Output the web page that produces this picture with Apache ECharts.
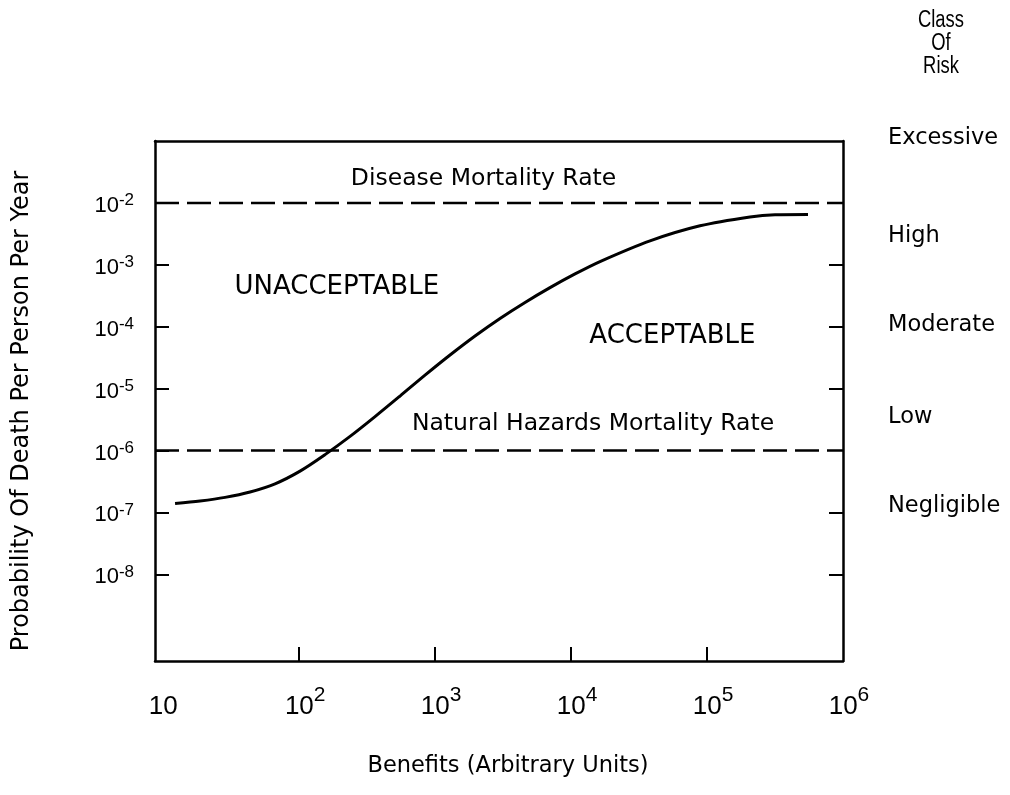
<!DOCTYPE html>
<html><head><meta charset="utf-8">
<script src="https://cdn.jsdelivr.net/npm/echarts@6/dist/echarts.min.js"></script>
<style>html,body{margin:0;padding:0;background:#fff}#c{width:1010px;height:795px}</style>
</head><body><div id="c"></div>
<script>
// ---- data ----
const benefits    = [12.22, 18.66, 28.5, 43.52, 66.46, 101.5, 155.0, 236.7, 361.4, 551.9, 842.6, 1287, 1965, 3001, 4584, 6998, 10690, 16320, 38070, 88780, 207000, 316100, 552600];
const probability = [1.39e-7, 1.53e-7, 1.75e-7, 2.14e-7, 2.90e-7, 4.65e-7, 8.59e-7, 1.69e-6, 3.53e-6, 7.59e-6, 1.65e-5, 3.49e-5, 7.08e-5, 1.36e-4, 2.47e-4, 4.28e-4, 7.13e-4, 1.13e-3, 2.44e-3, 4.27e-3, 5.94e-3, 6.45e-3, 6.52e-3];
const diseaseRate = 1e-2;
const naturalHazardsRate = 1e-6;
const xRange = [8.7, 1e6];
const yRange = [Math.pow(10, -9.4), 1e-1];
const xTickExponents = [1, 2, 3, 4, 5, 6];
const xTickMarkExponents = [2, 3, 4, 5];
const yTickExponents = [-2, -3, -4, -5, -6, -7, -8];
const rightTickExponents = [-3, -4, -5, -7, -8];
const regionLabels = ['Disease Mortality Rate', 'UNACCEPTABLE', 'ACCEPTABLE', 'Natural Hazards Mortality Rate'];
const regionLabelBenefits = [2270, 189, 55600, 14500];
const regionLabelProbability = [2.48e-2, 4.38e-4, 6.9e-5, 2.68e-6];
const riskClasses = ['Excessive', 'High', 'Moderate', 'Low', 'Negligible'];
const riskHeader = 'Class\nOf\nRisk';
const xTitle = 'Benefits (Arbitrary Units)';
const yTitle = 'Probability Of Death Per Person Per Year';

// ---- chart ----
const lg = Math.log10;
const WORD_FONT = '"DejaVu Sans", sans-serif';
const NUM_FONT = '"Liberation Sans", Arial, sans-serif';
const xMin = lg(xRange[0]), xMax = lg(xRange[1]);
const yMin = lg(yRange[0]), yMax = lg(yRange[1]);
const axisLineStyle = { color: '#000', width: 2.5 };

const chart = echarts.init(document.getElementById('c'), null, { renderer: 'canvas' });

const riskTops = [127, 225, 314, 406, 495];

const option = {
  animation: false,
  backgroundColor: '#fff',
  textStyle: { color: '#000' },
  grid: { left: 155, right: 167, top: 141, bottom: 134, containLabel: false },
  xAxis: [
    {
      type: 'value', min: xMin, max: xMax, position: 'bottom',
      axisLine: { show: true, onZero: false, lineStyle: axisLineStyle },
      axisTick: { show: true, inside: true, length: 14, customValues: xTickMarkExponents, lineStyle: { color: '#000', width: 2 } },
      axisLabel: {
        show: true, margin: 24, customValues: xTickExponents, color: '#000',
        formatter: function (v) {
          const e = Math.round(v);
          return e === 1 ? '{b0|10}' : '{b|10}{s|' + e + '}';
        },
        rich: {
          b0: { fontFamily: NUM_FONT, fontSize: 26, lineHeight: 26, padding: [18, 0, 0, 0], color: '#000' },
          b: { fontFamily: NUM_FONT, fontSize: 26, lineHeight: 26, padding: [18, 0, 0, 12], color: '#000' },
          s: { fontFamily: NUM_FONT, fontSize: 21, lineHeight: 21, verticalAlign: 'top', color: '#000' }
        }
      },
      splitLine: { show: false }
    },
    {
      type: 'value', min: xMin, max: xMax, position: 'top',
      axisLine: { show: true, onZero: false, lineStyle: axisLineStyle },
      axisTick: { show: false }, axisLabel: { show: false }, splitLine: { show: false }
    }
  ],
  yAxis: [
    {
      type: 'value', min: yMin, max: yMax, position: 'left',
      axisLine: { show: true, onZero: false, lineStyle: axisLineStyle },
      axisTick: { show: true, inside: true, length: 14, customValues: yTickExponents, lineStyle: { color: '#000', width: 2 } },
      axisLabel: {
        show: true, margin: 21, customValues: yTickExponents, color: '#000',
        formatter: function (v) { return '{b|10}{s|-' + Math.abs(Math.round(v)) + '}'; },
        rich: {
          b: { fontFamily: NUM_FONT, fontSize: 22, lineHeight: 22, padding: [6, 0, 0, 0], color: '#000' },
          s: { fontFamily: NUM_FONT, fontSize: 17, lineHeight: 17, verticalAlign: 'top', color: '#000' }
        }
      },
      splitLine: { show: false }
    },
    {
      type: 'value', min: yMin, max: yMax, position: 'right',
      axisLine: { show: true, onZero: false, lineStyle: axisLineStyle },
      axisTick: { show: true, inside: true, length: 14, customValues: rightTickExponents, lineStyle: { color: '#000', width: 2 } },
      axisLabel: { show: false }, splitLine: { show: false }
    }
  ],
  series: [
    {
      name: 'Risk acceptance curve', type: 'line', smooth: 0.3, showSymbol: false, silent: true,
      data: benefits.map((b, i) => [lg(b), lg(probability[i])]),
      lineStyle: { color: '#000', width: 3 }
    },
    {
      name: 'Disease Mortality Rate', type: 'line', showSymbol: false, silent: true,
      data: [[xMin, lg(diseaseRate)], [xMax, lg(diseaseRate)]],
      lineStyle: { color: '#000', width: 2.5, type: [24, 8] }
    },
    {
      name: 'Natural Hazards Mortality Rate', type: 'line', showSymbol: false, silent: true,
      data: [[xMin, lg(naturalHazardsRate)], [xMax, lg(naturalHazardsRate)]],
      lineStyle: { color: '#000', width: 2.5, type: [24, 8] }
    },
    {
      name: 'labels', type: 'scatter', symbolSize: 0, silent: true,
      itemStyle: { color: '#000', opacity: 1 },
      label: {
        show: true, position: 'inside', formatter: '{b}', color: '#000', opacity: 1,
        textBorderWidth: 0, fontFamily: WORD_FONT
      },
      data: regionLabels.map((t, i) => ({
        name: t,
        value: [lg(regionLabelBenefits[i]), lg(regionLabelProbability[i])],
        label: { fontSize: t === t.toUpperCase() ? 26 : 23.5, color: '#000' }
      }))
    }
  ],
  graphic: [
    {
      type: 'text', x: 22, y: 411, rotation: Math.PI / 2, silent: true,
      style: { text: yTitle, fontFamily: WORD_FONT, fontSize: 24, fill: '#000', textAlign: 'center', textVerticalAlign: 'middle' }
    },
    {
      type: 'text', x: 508, y: 766, silent: true,
      style: { text: xTitle, fontFamily: WORD_FONT, fontSize: 22.5, fill: '#000', textAlign: 'center', textVerticalAlign: 'middle' }
    },
    {
      type: 'text', x: 941, y: 9, scaleX: 0.8, silent: true,
      style: { text: riskHeader, fontFamily: NUM_FONT, fontSize: 23, lineHeight: 23, fill: '#000', textAlign: 'center', textVerticalAlign: 'top' }
    }
  ].concat(riskClasses.map((t, i) => ({
    type: 'text', x: 888, y: riskTops[i], silent: true,
    style: { text: t, fontFamily: WORD_FONT, fontSize: 22.5, fill: '#000', textAlign: 'left', textVerticalAlign: 'top' }
  })))
};
chart.setOption(option);
</script>
</body></html>
